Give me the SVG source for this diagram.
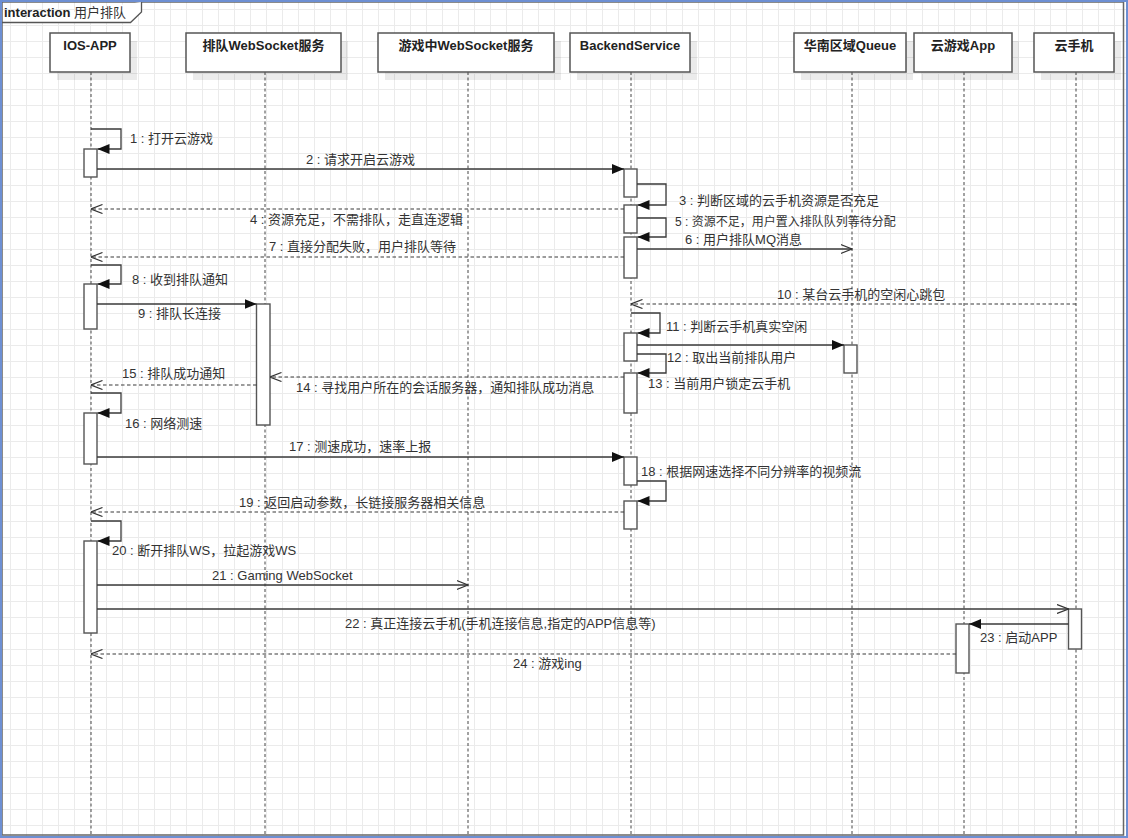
<svg xmlns="http://www.w3.org/2000/svg" width="1128" height="838" viewBox="0 0 1128 838">
<style>
text{font-family:"Liberation Sans","Noto Sans CJK SC",sans-serif;fill:#333;font-size:13px}
.hd{font-weight:bold;fill:#222;text-anchor:middle}
.box{fill:#fff;stroke:#555;stroke-width:1.5}
.sh{fill:#000;opacity:0.08}
.life{stroke:#444;stroke-width:1;stroke-dasharray:3,2.5;fill:none}
.act{fill:#fff;stroke:#555;stroke-width:1.4}
.msg{stroke:#3a3a3a;stroke-width:1.3;fill:none}
.ret{stroke:#3a3a3a;stroke-width:1.2;fill:none;stroke-dasharray:3.5,2.5}
.f{marker-end:url(#fa)}
.o{marker-end:url(#oa)}
</style>
<defs>
<pattern id="grid" x="10" y="9" width="16" height="16" patternUnits="userSpaceOnUse">
<path d="M0.5 0V16M0 0.5H16" stroke="#ebebeb" stroke-width="1" fill="none"/>
</pattern>
<marker id="fa" viewBox="0 0 12 10" refX="12" refY="5" markerWidth="12" markerHeight="10" markerUnits="userSpaceOnUse" orient="auto">
<path d="M0 0L12 5L0 10z" fill="#111"/>
</marker>
<marker id="oa" viewBox="0 0 12 10" refX="11.5" refY="5" markerWidth="12" markerHeight="10" markerUnits="userSpaceOnUse" orient="auto">
<path d="M0 0.5L11.5 5L0 9.5" fill="none" stroke="#333" stroke-width="1.2"/>
</marker>
</defs>
<rect x="0" y="0" width="1128" height="838" fill="#fff"/>
<rect x="0" y="0" width="1128" height="838" fill="url(#grid)"/>
<g id="frame">
<rect x="2" y="2" width="1121.5" height="833" fill="none" stroke="#666" stroke-width="1.5"/>
<path d="M2 22.5H130.5L141.5 12V2" fill="#fff" stroke="#555" stroke-width="1.3"/>
<text x="4" y="17"><tspan font-weight="bold" fill="#222">interaction</tspan> 用户排队</text>
</g>
<g id="lifelines">
<path class="life" d="M91 72V838M265 72V838M468 72V838M631 72V838M852 72V838M964 72V838M1076 72V838"/>
</g>
<g id="n-iosapp"><rect class="sh" x="57" y="41" width="80" height="39"/><rect class="box" x="50" y="33" width="80" height="39"/><text class="hd" x="90" y="50">IOS-APP</text></g>
<g id="n-queuews"><rect class="sh" x="193" y="41" width="155" height="39"/><rect class="box" x="186" y="33" width="155" height="39"/><text class="hd" x="263.5" y="50">排队WebSocket服务</text></g>
<g id="n-gamews"><rect class="sh" x="385" y="41" width="176" height="39"/><rect class="box" x="378" y="33" width="176" height="39"/><text class="hd" x="466" y="50">游戏中WebSocket服务</text></g>
<g id="n-backend"><rect class="sh" x="577" y="41" width="120" height="39"/><rect class="box" x="570" y="33" width="120" height="39"/><text class="hd" x="630" y="50">BackendService</text></g>
<g id="n-queue"><rect class="sh" x="801" y="41" width="112" height="39"/><rect class="box" x="794" y="33" width="112" height="39"/><text class="hd" x="850" y="50">华南区域Queue</text></g>
<g id="n-cloudapp"><rect class="sh" x="921" y="41" width="98" height="39"/><rect class="box" x="914" y="33" width="98" height="39"/><text class="hd" x="963" y="50">云游戏App</text></g>
<g id="n-phone"><rect class="sh" x="1041" y="41" width="80" height="39"/><rect class="box" x="1034" y="33" width="80" height="39"/><text class="hd" x="1074" y="50">云手机</text></g>
<g id="activations">
<rect class="act" x="84" y="149" width="13" height="28"/>
<rect class="act" x="84" y="284" width="13" height="45"/>
<rect class="act" x="84" y="413" width="13" height="51"/>
<rect class="act" x="84" y="541" width="13" height="92"/>
<rect class="act" x="256.5" y="304" width="13.5" height="121"/>
<rect class="act" x="624" y="169" width="13" height="28"/>
<rect class="act" x="624" y="205" width="13" height="28"/>
<rect class="act" x="624" y="237" width="13" height="41"/>
<rect class="act" x="624" y="333" width="13" height="28"/>
<rect class="act" x="624" y="373" width="13" height="40"/>
<rect class="act" x="624" y="457" width="13" height="28"/>
<rect class="act" x="624" y="501" width="13" height="28"/>
<rect class="act" x="844" y="345" width="13" height="28"/>
<rect class="act" x="956" y="624" width="13" height="49"/>
<rect class="act" x="1068.5" y="609" width="13" height="40"/>
</g>
<g id="connectors">
<path class="msg f" d="M91 129H121V149H97.5"/>
<path class="msg f" d="M97 169H624"/>
<path class="msg f" d="M637 184H666V205H637.5"/>
<path class="ret o" d="M624 209H91"/>
<path class="msg f" d="M637 218H666V237H637.5"/>
<path class="msg o" d="M637 249H852"/>
<path class="ret o" d="M624 257H91"/>
<path class="msg f" d="M91 265H121V284H97.5"/>
<path class="msg f" d="M97 304H256.5"/>
<path class="ret o" d="M1076 304H631"/>
<path class="msg f" d="M631 313H660V333H637.5"/>
<path class="msg f" d="M637 345H844"/>
<path class="msg f" d="M637 354H666V373H637.5"/>
<path class="ret o" d="M624 377H270"/>
<path class="ret o" d="M256.5 385H91"/>
<path class="msg f" d="M91 393H121V413H97.5"/>
<path class="msg f" d="M97 457H624"/>
<path class="msg f" d="M637 481H666V501H637.5"/>
<path class="ret o" d="M624 512H91"/>
<path class="msg f" d="M91 521H121V541H97.5"/>
<path class="msg o" d="M97 585H468"/>
<path class="msg o" d="M97 609H1068.5"/>
<path class="msg f" d="M1068.5 624H969"/>
<path class="ret o" d="M956 654H91"/>
</g>
<g id="labels">
<text x="130" y="143">1 : 打开云游戏</text>
<text x="306" y="164">2 : 请求开启云游戏</text>
<text x="679" y="205">3 : 判断区域的云手机资源是否充足</text>
<text x="250" y="224">4 : 资源充足，不需排队，走直连逻辑</text>
<text x="675" y="226" style="font-size:12px">5 : 资源不足，用户置入排队队列等待分配</text>
<text x="685" y="244">6 : 用户排队MQ消息</text>
<text x="269" y="251">7 : 直接分配失败，用户排队等待</text>
<text x="132" y="284">8 : 收到排队通知</text>
<text x="138" y="318">9 : 排队长连接</text>
<text x="777" y="299">10 : 某台云手机的空闲心跳包</text>
<text x="666" y="331">11 : 判断云手机真实空闲</text>
<text x="667" y="362">12 : 取出当前排队用户</text>
<text x="648" y="388">13 : 当前用户锁定云手机</text>
<text x="296" y="392">14 : 寻找用户所在的会话服务器，通知排队成功消息</text>
<text x="122" y="378">15 : 排队成功通知</text>
<text x="125" y="428">16 : 网络测速</text>
<text x="289" y="451">17 : 测速成功，速率上报</text>
<text x="641" y="476">18 : 根据网速选择不同分辨率的视频流</text>
<text x="239" y="507">19 : 返回启动参数，长链接服务器相关信息</text>
<text x="112" y="555">20 : 断开排队WS，拉起游戏WS</text>
<text x="212" y="580">21 : Gaming WebSocket</text>
<text x="345" y="628">22 : 真正连接云手机(手机连接信息,指定的APP信息等)</text>
<text x="980" y="642">23 : 启动APP</text>
<text x="513" y="668">24 : 游戏ing</text>
</g>
<rect x="1" y="1" width="1126" height="836" fill="none" stroke="#6d8fd3" stroke-width="2"/>
</svg>
